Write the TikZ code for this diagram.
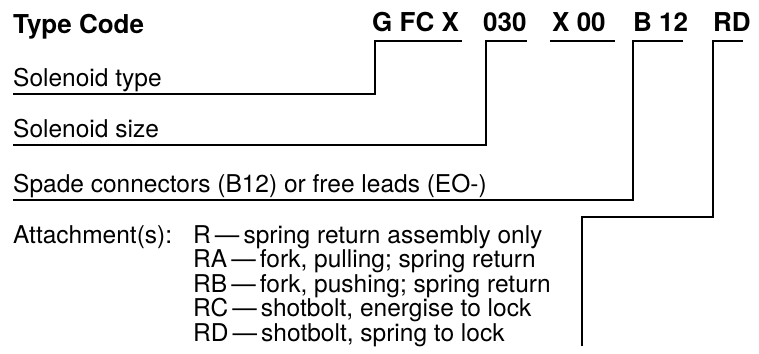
\documentclass[tikz,border=0pt]{standalone}
\usepackage{fontspec}
\setmainfont{TeX Gyre Heros}
\begin{document}
\begin{tikzpicture}[x=1pt,y=-1pt,
  lbl/.style={anchor=base west, inner sep=0pt, font=\fontsize{24.5}{29}\selectfont},
  codepart/.style={anchor=base west, inner sep=0pt, font=\fontsize{26}{30}\selectfont\bfseries},
  leader/.style={line width=2.5pt}]
\useasboundingbox (0,0) rectangle (759,353);
% title and code
\node[codepart] (title) at (13,34) {Type Code};
\node[codepart] (c1) at (372,32) {G FC X};
\node[codepart] (c2) at (483,32) {030};
\node[codepart] (c3) at (552,32) {X 00};
\node[codepart] (c4) at (633,32) {B 12};
\node[codepart] (c5) at (713,32) {RD};
% labels
\node[lbl] (t1) at (13,86) {Solenoid type};
\node[lbl] (t2) at (13,137) {Solenoid size};
\node[lbl] (t3) at (13,192) {Spade connectors (B12) or free leads (EO-)};
\node[lbl] (t4) at (13,243) {Attachment(s):};
\node[lbl] (r1) at (193,243) {R\,---\,spring return assembly only};
\node[lbl] (r2) at (193,267.5) {RA\,---\,fork, pulling; spring return};
\node[lbl] (r3) at (193,292) {RB\,---\,fork, pushing; spring return};
\node[lbl] (r4) at (193,316.5) {RC\,---\,shotbolt, energise to lock};
\node[lbl] (r5) at (193,341) {RD\,---\,shotbolt, spring to lock};
% leader coordinates
\coordinate (c1e) at (462,41);
\coordinate (c1b) at (375,41);
\coordinate (t1u) at (13,94);
\coordinate (c2e) at (527,41);
\coordinate (c2b) at (486,41);
\coordinate (t2u) at (13,145);
\coordinate (c3a) at (550,41);
\coordinate (c3e) at (615,41);
\coordinate (c4e) at (683,41);
\coordinate (c4b) at (633,41);
\coordinate (t3u) at (13,200);
\coordinate (c5e) at (743,41);
\coordinate (c5b) at (713,41);
\coordinate (c5k) at (713,217);
\coordinate (r5k) at (582,217);
\coordinate (r5e) at (582,346);
% leaders
\draw[leader] (c1e) -- (c1b) |- (t1u);
\draw[leader] (c2e) -- (c2b) |- (t2u);
\draw[leader] (c3a) -- (c3e);
\draw[leader] (c4e) -- (c4b) |- (t3u);
\draw[leader] (c5e) -- (c5b) -- (c5k) -- (r5k) -- (r5e);
\end{tikzpicture}
\end{document}
